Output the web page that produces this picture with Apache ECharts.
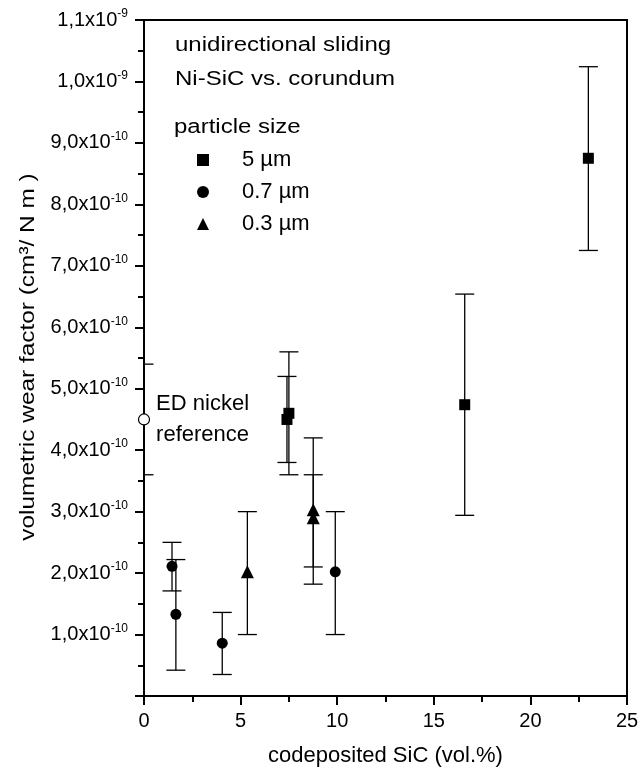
<!DOCTYPE html>
<html>
<head>
<meta charset="utf-8">
<script src="https://cdn.jsdelivr.net/npm/echarts@6/dist/echarts.min.js"></script>
<style>
  html, body { margin: 0; padding: 0; background: #fff; }
  #chart { width: 640px; height: 771px; }
</style>
</head>
<body>
<div id="chart"></div>
<script>
// values in units of 1e-10 cm3/(N m)
const refX = [0];
const refY = [4.5];
const refLo = [3.6];
const refHi = [5.4];

const s5X = [7.4, 7.5, 16.6, 23.0];
const s5Y = [4.5, 4.6, 4.74, 8.75];
const s5Lo = [3.8, 3.6, 2.94, 7.25];
const s5Hi = [5.2, 5.6, 6.54, 10.24];

const s07X = [1.45, 1.65, 4.05, 9.9];
const s07Y = [2.11, 1.33, 0.86, 2.02];
const s07Lo = [1.71, 0.42, 0.35, 1.0];
const s07Hi = [2.5, 2.22, 1.36, 3.0];

const s03X = [5.35, 8.76, 8.76];
const s03Y = [2.02, 3.03, 2.9];
const s03Lo = [1.0, 1.82, 2.1];
const s03Hi = [3.0, 4.2, 3.6];

const seriesNames = ['5 µm', '0.7 µm', '0.3 µm'];
const xTicks = [0, 5, 10, 15, 20, 25];
// y tick labels: mantissa and exponent per tick (0 .. 11)
const yMantissa = ['', '1,0', '2,0', '3,0', '4,0', '5,0', '6,0', '7,0', '8,0', '9,0', '1,0', '1,1'];
const yExponent = ['', '-10', '-10', '-10', '-10', '-10', '-10', '-10', '-10', '-10', '-9', '-9'];

const font = 'Liberation Sans, Arial, Helvetica, sans-serif';
const ink = '#000';

function pts(xs, ys) { return xs.map((x, i) => [x, ys[i]]); }
function bars(xs, lo, hi) { return xs.map((x, i) => [x, lo[i], hi[i]]); }

function errRender(params, api) {
  const x = api.value(0);
  const pLo = api.coord([x, api.value(1)]);
  const pHi = api.coord([x, api.value(2)]);
  const hw = 9.5;
  const st = { stroke: ink, lineWidth: 1.3 };
  return {
    type: 'group',
    children: [
      { type: 'line', shape: { x1: pLo[0], y1: pLo[1], x2: pHi[0], y2: pHi[1] }, style: st },
      { type: 'line', shape: { x1: pHi[0] - hw, y1: pHi[1], x2: pHi[0] + hw, y2: pHi[1] }, style: st },
      { type: 'line', shape: { x1: pLo[0] - hw, y1: pLo[1], x2: pLo[0] + hw, y2: pLo[1] }, style: st }
    ]
  };
}

function errSeries(data) {
  return { type: 'custom', renderItem: errRender, data: data, clip: true, z: 1, silent: true,
           encode: { x: 0, y: [1, 2] } };
}

function note(text, left, top) {
  return { type: 'text', left: left, top: top, scaleX: 1.2,
           style: { text: text, font: '20px ' + font, fill: ink } };
}

const chart = echarts.init(document.getElementById('chart'));
chart.setOption({
  animation: false,
  backgroundColor: '#fff',
  textStyle: { fontFamily: font, color: ink },
  grid: { left: 144, right: 13, top: 20, bottom: 75, show: true, borderColor: ink, borderWidth: 2,
          outerBoundsMode: 'none' },
  legend: {
    data: seriesNames,
    orient: 'vertical',
    left: 192, top: 144,
    itemWidth: 12, itemHeight: 12, itemGap: 10,
    textStyle: { fontSize: 22, lineHeight: 22, color: ink, fontFamily: font, padding: [0, 0, 0, 28] }
  },
  graphic: [
    note('unidirectional sliding', 175, 35),
    note('Ni-SiC vs. corundum', 175, 69),
    note('particle size', 174, 117),
    {
      type: 'text', x: 28, y: 357, rotation: Math.PI / 2, scaleX: 1.22,
      style: { text: 'volumetric wear factor (cm³/ N m )', font: '20px ' + font, fill: ink,
               align: 'center', verticalAlign: 'middle' }
    }
  ],
  xAxis: {
    type: 'value', min: 0, max: 25, interval: 5,
    name: 'codeposited SiC (vol.%)', nameLocation: 'middle', nameGap: 49,
    nameTextStyle: { fontSize: 22, color: ink },
    axisLine: { lineStyle: { color: ink, width: 2 } },
    axisTick: { length: 9, lineStyle: { color: ink, width: 2 } },
    minorTick: { show: true, splitNumber: 2, length: 6, lineStyle: { color: ink, width: 2 } },
    splitLine: { show: false },
    axisLabel: { fontSize: 20, color: ink, margin: 15,
      formatter: v => xTicks.indexOf(v) >= 0 ? String(v) : '' }
  },
  yAxis: {
    type: 'value', min: 0, max: 11, interval: 1,
    axisLine: { lineStyle: { color: ink, width: 2 } },
    axisTick: { length: 9, lineStyle: { color: ink, width: 2 } },
    minorTick: { show: true, splitNumber: 2, length: 6, lineStyle: { color: ink, width: 2 } },
    splitLine: { show: false },
    axisLabel: {
      margin: 16,
      formatter: v => {
        const i = Math.round(v);
        if (!yMantissa[i]) return '';
        return '{a|' + yMantissa[i] + 'x10}{b|' + yExponent[i] + '}';
      },
      rich: {
        a: { fontSize: 20, color: ink, lineHeight: 24, fontFamily: font },
        b: { fontSize: 12, color: ink, lineHeight: 12, verticalAlign: 'top', fontFamily: font }
      }
    }
  },
  series: [
    errSeries(bars(refX, refLo, refHi)),
    errSeries(bars(s5X, s5Lo, s5Hi)),
    errSeries(bars(s07X, s07Lo, s07Hi)),
    errSeries(bars(s03X, s03Lo, s03Hi)),
    {
      name: 'ED nickel', type: 'scatter', data: pts(refX, refY), symbol: 'circle', symbolSize: 11, z: 3,
      clip: false,
      itemStyle: { color: '#fff', borderColor: ink, borderWidth: 1.2, opacity: 1 },
      label: { show: true, position: 'right', distance: 6, formatter: 'ED nickel\nreference',
               fontSize: 22, lineHeight: 31, color: ink, fontFamily: font }
    },
    { name: seriesNames[0], type: 'scatter', data: pts(s5X, s5Y), symbol: 'rect', symbolSize: 11, z: 3,
      itemStyle: { color: ink, opacity: 1 } },
    { name: seriesNames[1], type: 'scatter', data: pts(s07X, s07Y), symbol: 'circle', symbolSize: 11, z: 3,
      itemStyle: { color: ink, opacity: 1 } },
    { name: seriesNames[2], type: 'scatter', data: pts(s03X, s03Y), symbol: 'triangle', symbolSize: 13, z: 3,
      itemStyle: { color: ink, opacity: 1 } }
  ]
});
</script>
</body>
</html>
